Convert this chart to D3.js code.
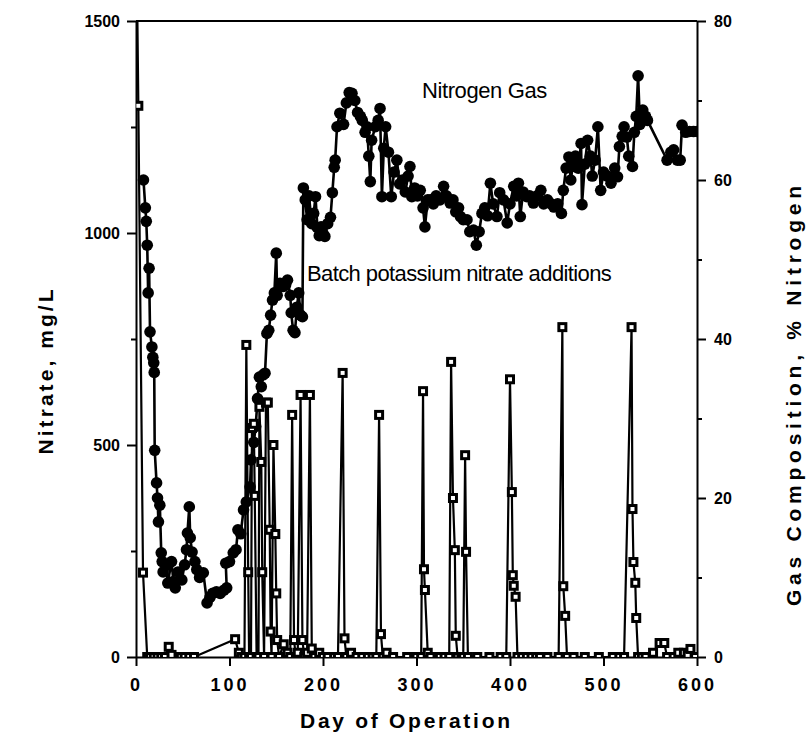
<!DOCTYPE html>
<html>
<head>
<meta charset="utf-8">
<script src="https://cdn.jsdelivr.net/npm/d3@7"></script>
<style>
  body { margin: 0; background: #fff; }
  text { font-family: "Liberation Sans", Arial, sans-serif; fill: #000; }
</style>
</head>
<body>
<div id="chart"></div>
<script>
// Nitrate in solution, mg/L (left axis): [day, value]
const nitrate = [
  [1, 1600], [2.5, 1300], [7.5, 199], [12, 0], [15, 0], [19, 0], [23, 0], [27, 0], [31, 0],
  [35, 24], [38, 5], [48, 0], [52, 0], [57, 0], [62, 0], [106, 42], [110, 10], [113, 0],
  [116, 0], [118, 736], [120, 200], [121, 0], [123, 0], [124, 540], [126, 550], [127, 380],
  [129, 0], [131, 0], [132, 590], [134, 460], [135, 200], [137, 0], [139, 600], [141, 600],
  [143, 300], [144, 60], [145, 0], [147, 500], [149, 290], [150, 150], [151, 40], [153, 0],
  [158, 30], [162, 10], [165, 0], [167, 571], [169, 40], [171, 0], [173, 10], [176, 618],
  [178, 40], [180, 0], [183, 10], [186, 618], [188, 20], [191, 0], [196, 10], [200, 0],
  [205, 0], [212, 0], [216, 0], [221, 670], [223, 44], [225, 0], [230, 10], [236, 0],
  [242, 0], [248, 0], [253, 0], [257, 0], [260, 571], [262, 54], [264, 0], [268, 10],
  [275, 0], [290, 0], [300, 0], [305, 0], [307, 627], [308, 207], [309, 158], [312, 10],
  [315, 0], [325, 0], [330, 0], [335, 0], [337, 696], [339, 375], [341, 252], [342, 50],
  [344, 0], [348, 0], [350, 0], [352, 476], [353, 248], [355, 0], [365, 0], [378, 0],
  [390, 0], [396, 0], [400, 655], [402, 389], [403, 193], [404, 168], [406, 142], [408, 0],
  [413, 0], [418, 0], [423, 0], [428, 0], [432, 0], [440, 0], [452, 0], [456, 778],
  [457, 167], [459, 97], [461, 0], [468, 0], [480, 0], [495, 0], [510, 0], [517, 0],
  [522, 0], [530, 778], [531, 349], [532, 224], [534, 175], [535, 92], [537, 0], [541, 0],
  [545, 0], [553, 10], [560, 33], [565, 33], [568, 0], [575, 0], [580, 10], [586, 10],
  [590, 5], [593, 19], [598, 0]
];

// Nitrogen in the gas, % (right axis): [day, value]
const nitrogen = [
  [8, 60.0], [10, 56.5], [11, 54.8], [12, 51.8], [13, 45.8], [14, 48.9], [15, 40.9], [17, 39.0],
  [18, 37.7], [19, 37.0], [19.5, 35.8], [20, 26.0], [22, 21.9], [23, 20.0], [24, 17.0],
  [25.5, 19.1], [27, 13.1], [28, 12.0], [29, 10.7], [32, 11.5], [34, 9.3], [38, 12.0],
  [40, 9.5], [42, 8.7], [45, 10.7], [49, 9.7], [52, 11.6], [54, 13.5], [55, 15.6], [57, 18.9],
  [58, 15.0], [60, 13.2], [63, 12.0], [65, 11.0], [68, 10.0], [72, 10.6], [76, 6.8], [79, 7.5],
  [82, 8.0], [86, 8.2], [90, 8.0], [94, 8.4], [97, 8.7], [96, 11.8], [100, 12.0], [104, 13.1],
  [107, 13.5], [109, 16.0], [112, 15.5], [115, 18.5], [118, 19.5], [122, 21.4], [123, 24.8],
  [126, 27.0], [128, 29.0], [130, 32.5], [132, 35.2], [134, 34.0], [136, 35.5], [138, 35.7],
  [140, 40.7], [142, 41.1], [144, 43.0], [146, 44.9], [148, 45.8], [150, 50.8], [151, 45.5],
  [154, 47.0], [157, 46.6], [160, 46.8], [162, 47.4], [165, 45.5], [166, 43.3], [168, 41.1],
  [170, 40.8], [172, 44.0], [174, 45.8], [176, 43.0], [178, 42.8], [179, 59.0], [181, 57.5],
  [183, 55.0], [185, 58.0], [188, 54.5], [190, 55.8], [192, 57.9], [194, 54.0], [196, 53.0],
  [198, 54.1], [200, 53.3], [202, 52.9], [205, 54.5], [208, 55.3], [210, 58.4], [212, 61.6],
  [213, 62.5], [215, 66.7], [218, 68.4], [222, 67.0], [225, 69.7], [228, 71.0], [231, 70.9],
  [234, 70.0], [237, 68.5], [240, 68.0], [242, 67.5], [245, 66.0], [247, 66.7], [249, 63.0],
  [250.6, 59.8], [252, 65.0], [256, 66.7], [259, 67.5], [261, 69.0], [263, 57.9], [265, 64.0],
  [267, 66.7], [270, 63.5], [273, 57.9], [276, 61.0], [279, 62.5], [282, 59.5], [285, 60.0],
  [288, 58.5], [291, 60.5], [293, 61.7], [295, 57.9], [298, 59.0], [301, 58.0], [304, 58.7],
  [307, 56.5], [309, 54.1], [312, 57.5], [315, 57.5], [318, 57.0], [321, 58.0], [325, 57.5],
  [329, 59.2], [332, 58.0], [336, 57.1], [339, 57.5], [342, 56.0], [345, 56.5], [347, 55.4],
  [350, 55.0], [354, 55.0], [357, 53.5], [361, 53.7], [364, 51.8], [367, 53.5], [370, 55.8],
  [373, 56.5], [376, 55.5], [379, 59.6], [382, 57.0], [386, 55.4], [389, 58.4], [393, 57.5],
  [397, 54.6], [400, 57.0], [404, 59.2], [407, 58.0], [409, 59.6], [411, 55.4], [414, 58.5],
  [418, 57.9], [421, 58.0], [425, 57.1], [429, 58.0], [433, 58.7], [436, 57.0], [440, 57.5],
  [444, 57.0], [447, 56.6], [451, 57.0], [455, 55.8], [457, 58.7], [460, 61.5], [463, 62.9],
  [465, 60.0], [467, 61.7], [470, 63.0], [473, 61.5], [476, 64.6], [477, 56.9], [480, 62.0],
  [483, 65.0], [486, 63.0], [488, 60.5], [491, 62.5], [494, 66.7], [497, 58.7], [500, 61.0],
  [504, 60.5], [508, 59.6], [512, 61.5], [515, 60.4], [517, 64.2], [520, 65.5], [522, 66.7],
  [525, 65.4], [527, 63.0], [531, 61.7], [533, 66.0], [535, 68.0], [537, 73.1], [539, 67.0],
  [542, 68.8], [545, 68.0], [547, 67.5], [568, 62.5], [572, 63.5], [575, 63.8], [579, 62.5],
  [582, 62.5], [584, 66.9], [588, 66.0], [592, 66.1], [596, 66.1], [600, 66.1]
];

const xTicks = [0, 100, 200, 300, 400, 500, 600];
const leftTicks = [0, 250, 500, 750, 1000, 1250, 1500];
const rightTicks = [0, 10, 20, 30, 40, 50, 60, 70, 80];

const width = 811;
const height = 742;
const margin = { top: 21, right: 114, bottom: 85, left: 136 };

const x = d3.scaleLinear([0, 600], [margin.left, width - margin.right]);
const yLeft = d3.scaleLinear([0, 1500], [height - margin.bottom, margin.top]);
const yRight = d3.scaleLinear([0, 80], [height - margin.bottom, margin.top]);

const svg = d3.select("#chart").append("svg")
    .attr("width", width)
    .attr("height", height);

svg.append("clipPath").attr("id", "plot")
  .append("rect")
    .attr("x", margin.left).attr("y", margin.top)
    .attr("width", width - margin.left - margin.right)
    .attr("height", height - margin.top - margin.bottom);

// Axes.
const xAxis = svg.append("g")
    .attr("transform", `translate(0,${height - margin.bottom})`)
    .call(d3.axisBottom(x).tickValues(xTicks).tickSize(9).tickPadding(12).tickSizeOuter(0));
xAxis.selectAll("text")
    .attr("font-size", 18).attr("font-weight", "bold").attr("letter-spacing", 3)
    .attr("font-family", "Liberation Sans, Arial, sans-serif");

const leftAxis = svg.append("g")
    .attr("transform", `translate(${margin.left},0)`)
    .call(d3.axisLeft(yLeft).tickValues(leftTicks).tickSize(9).tickPadding(7).tickSizeOuter(0)
        .tickFormat(d => d % 500 === 0 ? d : ""));
leftAxis.selectAll(".tick line").attr("x2", d => d % 500 === 0 ? -9 : -5);
leftAxis.selectAll("text")
    .attr("font-size", 16).attr("font-weight", "bold")
    .attr("font-family", "Liberation Sans, Arial, sans-serif");

const rightAxis = svg.append("g")
    .attr("transform", `translate(${width - margin.right},0)`)
    .call(d3.axisRight(yRight).tickValues(rightTicks).tickSize(9).tickPadding(8).tickSizeOuter(0)
        .tickFormat(d => d % 20 === 0 ? d : ""));
rightAxis.selectAll(".tick line").attr("x2", d => d % 20 === 0 ? 9 : 5);
rightAxis.selectAll("text")
    .attr("font-size", 16).attr("font-weight", "bold")
    .attr("font-family", "Liberation Sans, Arial, sans-serif");

svg.selectAll(".domain, .tick line").attr("stroke", "#000").attr("stroke-width", 2);

// Top frame.
svg.append("line")
    .attr("x1", margin.left).attr("x2", width - margin.right)
    .attr("y1", margin.top).attr("y2", margin.top)
    .attr("stroke", "#000").attr("stroke-width", 2);

const plot = svg.append("g").attr("clip-path", "url(#plot)");

// Nitrogen gas: filled markers.
plot.append("path")
    .datum(nitrogen)
    .attr("fill", "none").attr("stroke", "#000").attr("stroke-width", 2.6)
    .attr("d", d3.line(d => x(d[0]), d => yRight(d[1])));
plot.append("g")
  .selectAll("circle")
  .data(nitrogen)
  .join("circle")
    .attr("cx", d => x(d[0]))
    .attr("cy", d => yRight(d[1]))
    .attr("r", 5.8)
    .attr("fill", "#000");

// Nitrate: open squares.
plot.append("path")
    .datum(nitrate)
    .attr("fill", "none").attr("stroke", "#000").attr("stroke-width", 2.2)
    .attr("d", d3.line(d => x(d[0]), d => yLeft(d[1])));
plot.append("g")
  .selectAll("rect")
  .data(nitrate.filter(d => d[1] <= 1500))
  .join("rect")
    .attr("x", d => x(d[0]) - 3.5)
    .attr("y", d => yLeft(d[1]) - 3.5)
    .attr("width", 7).attr("height", 7)
    .attr("fill", "#fff").attr("stroke", "#000").attr("stroke-width", 3);

// Annotations.
svg.append("text")
    .attr("x", 422).attr("y", 98)
    .attr("font-size", 22).attr("letter-spacing", -0.4)
    .text("Nitrogen Gas");
svg.append("text")
    .attr("x", 307).attr("y", 281)
    .attr("font-size", 22).attr("letter-spacing", -0.6)
    .text("Batch potassium nitrate additions");

// Axis titles.
svg.append("text")
    .attr("transform", "translate(405,728)")
    .attr("text-anchor", "middle")
    .attr("font-size", 21).attr("font-weight", "bold")
    .attr("textLength", 210).attr("lengthAdjust", "spacing")
    .text("Day of Operation");
svg.append("text")
    .attr("transform", "translate(53,372) rotate(-90)")
    .attr("text-anchor", "middle")
    .attr("font-size", 21).attr("font-weight", "bold")
    .attr("textLength", 165).attr("lengthAdjust", "spacing")
    .text("Nitrate, mg/L");
svg.append("text")
    .attr("transform", "translate(801,396) rotate(-90)")
    .attr("text-anchor", "middle")
    .attr("font-size", 21).attr("font-weight", "bold")
    .attr("textLength", 420).attr("lengthAdjust", "spacing")
    .text("Gas Composition, % Nitrogen");
</script>
</body>
</html>
